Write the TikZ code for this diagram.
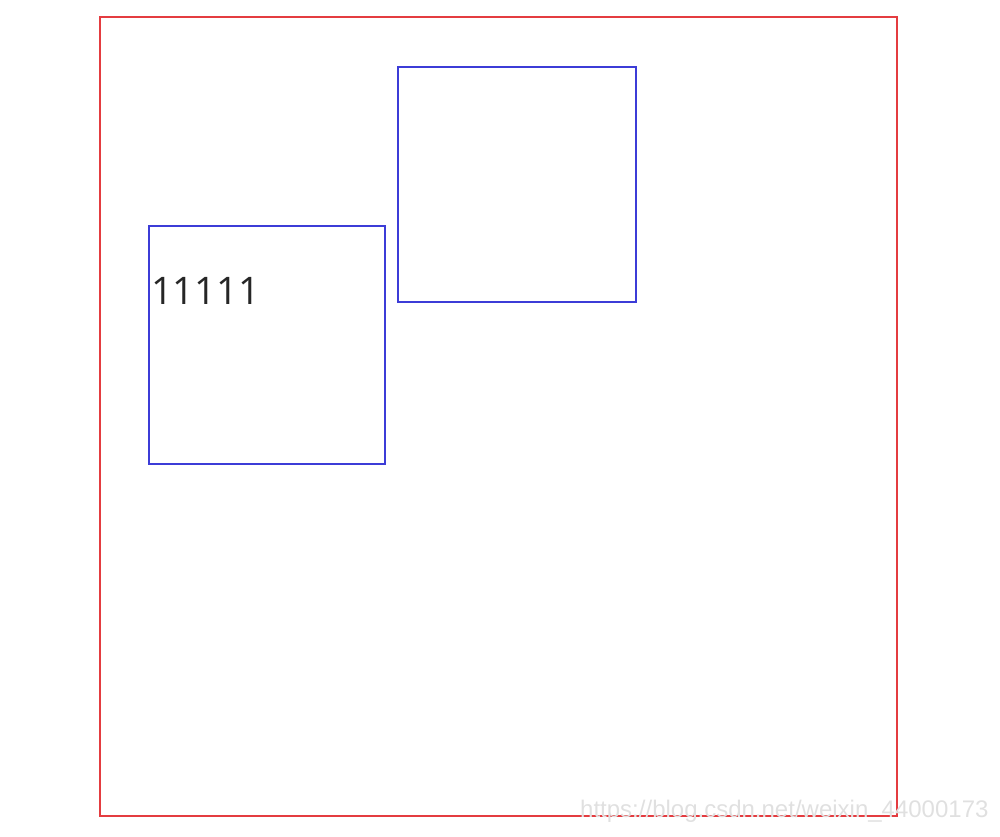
\documentclass[tikz,border=0pt]{standalone}
\usepackage{fontspec}
\setmainfont{Open Sans}
\newfontfamily\wmfont{Liberation Sans}
\definecolor{outerred}{RGB}{228,60,64}
\definecolor{innerblue}{RGB}{60,60,215}
\begin{document}
\begin{tikzpicture}[x=1pt,y=-1pt,
  outer/.style={draw=outerred,line width=2pt},
  inner/.style={draw=innerblue,line width=1.5pt},
  label/.style={font=\fontsize{38}{40}\selectfont,text=black!85,anchor=base west,inner sep=0pt},
  watermark/.style={font=\wmfont\fontsize{24}{26}\selectfont,text=black!12,anchor=base west,inner sep=0pt}]
\useasboundingbox (0,0) rectangle (1000,836);
\draw[outer] (100,17) rectangle (897,816);
\draw[inner] (149,226) rectangle (385,464);
\draw[inner] (398,67) rectangle (636,302);
\node[label] (txt) at (151,304) {11111};
\node[watermark] (wm) at (580,817) {https://blog.csdn.net/weixin\_44000173};
\end{tikzpicture}
\end{document}
